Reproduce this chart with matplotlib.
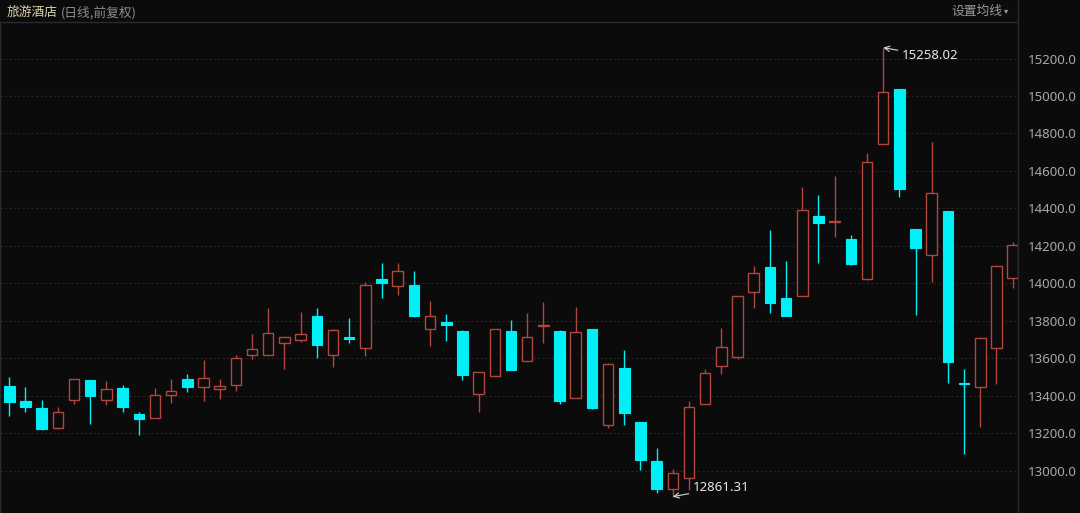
import matplotlib.pyplot as plt
from matplotlib.lines import Line2D
import numpy as np

plt.rcParams['font.family'] = ['Noto Sans CJK SC', 'DejaVu Sans']

# daily OHLC (index points)
opens = [13454, 13372, 13335, 13230, 13377, 13483, 13377, 13441, 13303, 13283,
         13403, 13490, 13445, 13435, 13459, 13618, 13619, 13682, 13698, 13827,
         13618, 13712, 13653, 14021, 13984, 13991, 13755, 13796, 13747, 13408,
         13506, 13746, 13587, 13770, 13748, 13390, 13755, 13242, 13550, 13260,
         13053, 12902, 12963, 13356, 13561, 13609, 13952, 14089, 13924, 13933,
         14360, 14330, 14238, 14022, 14746, 15038, 14289, 14151, 14386, 13468,
         13448, 13653, 14027]
highs = [13499, 13448, 13379, 13338, 13490, 13484, 13479, 13459, 13312, 13440,
         13491, 13515, 13591, 13488, 13618, 13730, 13870, 13712, 13846, 13867,
         13755, 13814, 14006, 14111, 14107, 14068, 13908, 13837, 13750, 13528,
         13758, 13804, 13843, 13899, 13750, 13872, 13757, 13577, 13644, 13262,
         13123, 13008, 13372, 13541, 13760, 13935, 14094, 14285, 14121, 14513,
         14472, 14575, 14258, 14694, 15258.02, 15040, 14291, 14756, 14388, 13541,
         13712, 14096, 14222]
lows = [13294, 13312, 13217, 13221, 13356, 13249, 13351, 13315, 13191, 13282,
        13363, 13422, 13372, 13381, 13424, 13595, 13619, 13541, 13689, 13600,
        13552, 13680, 13612, 13922, 13936, 13820, 13666, 13692, 13484, 13315,
        13503, 13535, 13585, 13680, 13354, 13388, 13331, 13226, 13242, 13004,
        12880, 12861.31, 12897, 13354, 13516, 13595, 13867, 13843, 13825, 13930,
        14107, 14246, 14100, 14020, 14744, 14463, 13831, 14009, 13470, 13089,
        13232, 13461, 13974]
closes = [13365, 13338, 13223, 13312, 13489, 13397, 13435, 13338, 13276, 13402,
          13424, 13445, 13493, 13450, 13603, 13648, 13733, 13712, 13728, 13671,
          13751, 13701, 13993, 14000, 14066, 13826, 13827, 13778, 13513, 13525,
          13755, 13538, 13715, 13776, 13372, 13742, 13333, 13570, 13306, 13057,
          12902, 12989, 13342, 13523, 13662, 13933, 14057, 13897, 13827, 14390,
          14324, 14335, 14102, 14646, 15020, 14502, 14187, 14484, 13582, 13462,
          13710, 14094, 14205]
yticks = [13000, 13200, 13400, 13600, 13800, 14000, 14200, 14400, 14600, 14800, 15000, 15200]

bg = '#0b0b0c'
up_col = '#b0463c'
down_col = '#00f0f8'
grid_col = '#262628'

fig = plt.figure(figsize=(10.8, 5.13), dpi=100, facecolor=bg)
ax = fig.add_axes([0, 0, 1018 / 1080, 491 / 513])
ax.set_facecolor(bg)

o = np.array(opens, dtype=float)
h = np.array(highs, dtype=float)
l = np.array(lows, dtype=float)
c = np.array(closes, dtype=float)
x = np.arange(len(o))
w = 0.65

up = c >= o
dn = ~up

# falling days: filled cyan with a full wick behind
ax.vlines(x[dn], l[dn], h[dn], color=down_col, lw=1, zorder=2)
ax.bar(x[dn], np.maximum(o[dn] - c[dn], 4), w, bottom=c[dn], color=down_col,
       edgecolor=down_col, lw=0.8, zorder=3)

# rising days: hollow red, wick only outside the body
ax.vlines(x[up], c[up], h[up], color=up_col, lw=1, zorder=2)
ax.vlines(x[up], l[up], o[up], color=up_col, lw=1, zorder=2)
ax.bar(x[up], np.maximum(c[up] - o[up], 1), w, bottom=o[up], facecolor=bg,
       edgecolor=up_col, lw=1, zorder=3)

ax.set_xlim(-0.575, 62.33)
ax.set_ylim(12774, 15395)

ax.set_xticks([])
ax.set_yticks(yticks)
ax.set_yticklabels([f'{t:.1f}' for t in yticks])
ax.yaxis.tick_right()
ax.tick_params(axis='y', length=0, pad=7, labelsize=9.5, labelcolor='#a8a8a8')
for lab in ax.get_yticklabels():
    lab.set_family(['Noto Sans', 'DejaVu Sans'])
ax.grid(axis='y', color=grid_col, lw=0.8, ls=(0, (2, 2)))
ax.set_axisbelow(True)

for side in ('bottom', 'right'):
    ax.spines[side].set_visible(False)
ax.spines['left'].set_color('#2c2c2e')
ax.spines['top'].set_color('#2a2a2c')
ax.spines['left'].set_linewidth(1)
ax.spines['top'].set_linewidth(1)

# separator between chart and price scale
fig.add_artist(Line2D([1018 / 1080, 1018 / 1080], [0, 1], color='#2a2a2c', lw=1))

# extreme labels
i_hi = int(np.argmax(h))
i_lo = int(np.argmin(l))
arrow = dict(arrowstyle='->', color='#d8d8d8', lw=0.8, shrinkA=1, shrinkB=0)
ax.annotate(f'{h[i_hi]:.2f}', xy=(i_hi, h[i_hi]), xytext=(13.5, -6),
            textcoords='offset points', ha='left', va='center', fontsize=9.5,
            color='#e6e6e6', family=['Noto Sans', 'DejaVu Sans'], arrowprops=arrow)
ax.annotate(f'{l[i_lo]:.2f}', xy=(i_lo, l[i_lo]), xytext=(14.5, 6.5),
            textcoords='offset points', ha='left', va='center', fontsize=9.5,
            color='#e6e6e6', family=['Noto Sans', 'DejaVu Sans'], arrowprops=arrow)

# header
fig.text(7 / 1080, 1 - 12.5 / 513, '旅游酒店', color='#d9d0a4', fontsize=9.2, va='center')
fig.text(61 / 1080, 1 - 12.5 / 513, '(日线,前复权)', color='#8c8c8c', fontsize=9.2, va='center')
fig.text(1002 / 1080, 1 - 11.5 / 513, '设置均线', color='#9a9a9a', fontsize=9.2,
         va='center', ha='right')
fig.text(1004 / 1080, 1 - 11 / 513, '▾', color='#9a9a9a', fontsize=6,
         va='center', ha='left', family=['DejaVu Sans'])

fig.savefig('out.png', dpi=100, facecolor=bg)
